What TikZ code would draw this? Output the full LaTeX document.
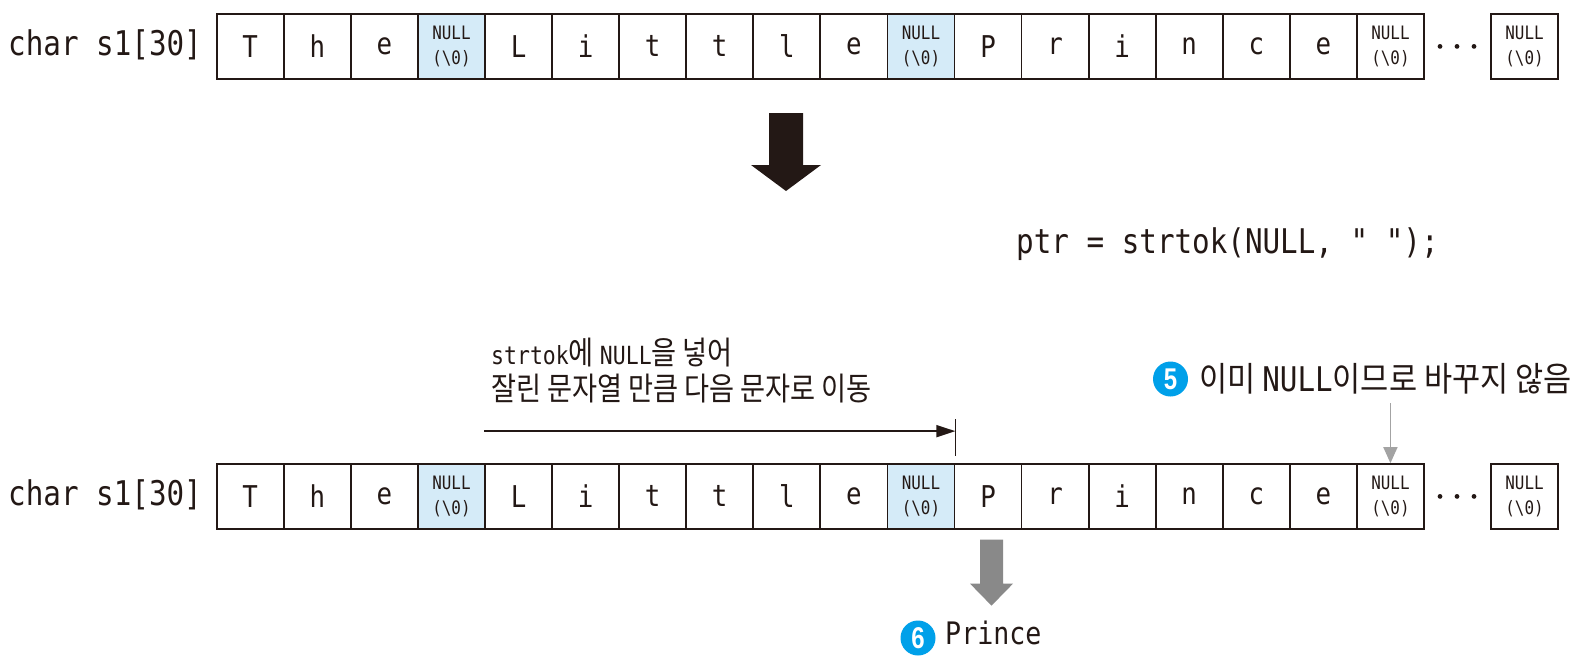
\documentclass[tikz,border=0pt]{standalone}
\usepackage{fontspec}
\usetikzlibrary{arrows.meta}
\newfontfamily\mono[FakeStretch=0.86,Ligatures=TeXOff]{DejaVu Sans Mono}
\newfontfamily\kr[FakeStretch=0.85]{Noto Sans CJK KR}
\newfontfamily\krB[FakeStretch=0.9]{Noto Sans CJK KR}
\newfontfamily\numf[FakeStretch=0.8]{Liberation Sans}
\definecolor{ink}{HTML}{231815}
\definecolor{nullblue}{HTML}{D5EBF8}
\definecolor{circ}{HTML}{00A0E9}
\definecolor{lgray}{HTML}{A3A3A3}
\definecolor{dgray}{HTML}{898989}
\newcommand\nul{NULL\\(\textbackslash0)}
\tikzset{
  cell/.style={draw=ink, line width=1.8pt, minimum width=67.07pt, minimum height=64.7pt,
    inner sep=0pt, text=ink, font=\mono\fontsize{30}{36}\selectfont},
  nullcell/.style={cell, align=center, font=\mono\fontsize{18.5}{25}\selectfont},
  bluecell/.style={nullcell, fill=nullblue},
  rowlabel/.style={anchor=base west, inner sep=0pt, text=ink, font=\mono\fontsize{34}{40}\selectfont},
  numcirc/.style={circle, fill=circ, minimum size=35pt, inner sep=0pt, text=white,
    font=\numf\bfseries\fontsize{30}{30}\selectfont},
  dot/.style={ink},
}
\begin{document}
\begin{tikzpicture}[x=1pt,y=-1pt]
\useasboundingbox (0,0) rectangle (1580,662);
% ---------- top row ----------
\node[rowlabel] (tl) at (8,55) {char s1[30]};
\foreach \s/\c [count=\k from 0] in {cell/T, cell/h, cell/e, bluecell/\nul, cell/L, cell/i, cell/t, cell/t, cell/l, cell/e, bluecell/\nul, cell/P, cell/r, cell/i, cell/n, cell/c, cell/e, nullcell/\nul}
  \node[\s] (t\k) at ({250.24+67.07*\k},46.4) {\c};
\node[nullcell] (tlast) at (1524.5,46.4) {\nul};
\foreach \x in {1440,1457,1474} \fill[dot] (\x,46.4) circle (2.4);
% ---------- big arrow ----------
\fill[ink] (769,113) -- (803,113) -- (803,165) -- (821,165) -- (786,191) -- (751,165) -- (769,165) -- cycle;
% ---------- code ----------
\node[rowlabel] (code) at (1016,253) {ptr = strtok(NULL, " ");};
% ---------- bottom row ----------
\node[rowlabel] (bl) at (8,505) {char s1[30]};
\foreach \s/\c [count=\k from 0] in {cell/T, cell/h, cell/e, bluecell/\nul, cell/L, cell/i, cell/t, cell/t, cell/l, cell/e, bluecell/\nul, cell/P, cell/r, cell/i, cell/n, cell/c, cell/e, nullcell/\nul}
  \node[\s] (b\k) at ({250.24+67.07*\k},496.4) {\c};
\node[nullcell] (blast) at (1524.5,496.4) {\nul};
\foreach \x in {1440,1457,1474} \fill[dot] (\x,496.4) circle (2.4);
% ---------- note with black arrow ----------
\node[anchor=base west, inner sep=0pt, text=ink, font=\kr\fontsize{32}{36}\selectfont] (n1) at (491,364)
  {{\mono\fontsize{25}{30}\selectfont strtok}에 {\mono\fontsize{25}{30}\selectfont NULL}을 넣어};
\node[anchor=base west, inner sep=0pt, text=ink, font=\kr\fontsize{32}{36}\selectfont] (n2) at (491,400)
  {잘린 문자열 만큼 다음 문자로 이동};
\path (b10.north east) ++(0,-44) coordinate (bt) (b10.north east) ++(0,-7) coordinate (bb)
      (b10.north east) ++(0,-32) coordinate (m1);
\coordinate (m0) at (b4.west |- m1);
\draw[ink, line width=1.6pt] (bt) -- (bb);
\draw[ink, line width=1.6pt, -{Triangle[length=19pt,width=12pt]}] (m0) -- (m1);
% ---------- note 5 ----------
\node[numcirc] (c5) at (1170.5,379) {5};
\node[anchor=base west, inner sep=0pt, text=ink, font=\krB\fontsize{34}{36}\selectfont] (n5) at (1199,391)
  {이미 {\mono\fontsize{34}{36}\selectfont NULL}이므로 바꾸지 않음};
\path (b17.north) ++(0,-60) coordinate (g5);
\draw[lgray, line width=1.6pt, -{Triangle[length=16pt,width=14pt]}] (g5) -- (b17.north);
% ---------- gray block arrow and result ----------
\path (b11.south) ++(3.5,10) coordinate (pa);
\fill[dgray] (pa) ++(-11.5,0) -- ++(23,0) -- ++(0,44) -- ++(10,0) -- ++(-21.5,22) -- ++(-21.5,-22) -- ++(10,0) -- cycle;
\node[numcirc] (c6) at (918,638) {6};
\node[anchor=base west, inner sep=0pt, text=ink, font=\mono\fontsize{31}{36}\selectfont] (pr) at (945,644) {Prince};
\end{tikzpicture}
\end{document}
